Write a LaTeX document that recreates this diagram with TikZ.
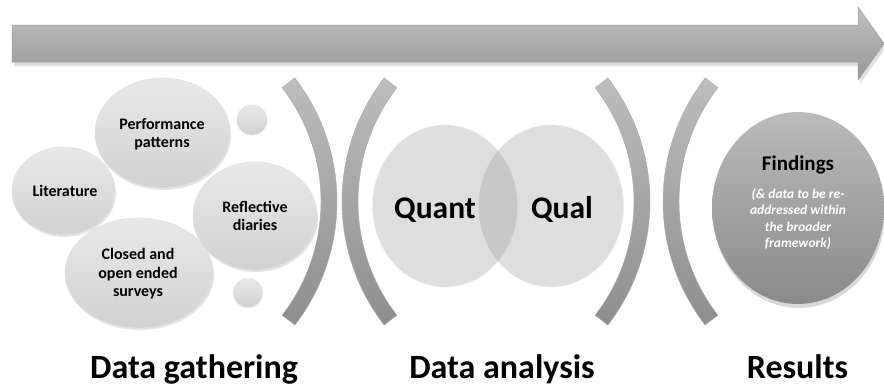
\documentclass[tikz,border=0pt]{standalone}
\usepackage{fontspec}
\setmainfont{Carlito}
\usetikzlibrary{calc}
\definecolor{bubtop}{HTML}{E8E8E8}
\definecolor{bubbot}{HTML}{D2D2D2}
\definecolor{venn}{HTML}{DEDEDE}
\definecolor{vennmid}{HTML}{C8C8C8}
\definecolor{arrtop}{HTML}{C0C0C0}
\definecolor{arrbot}{HTML}{989898}
\definecolor{brtop}{HTML}{BDBDBD}
\definecolor{brbot}{HTML}{8E8E8E}
\definecolor{fintop}{HTML}{BBBBBB}
\definecolor{finbot}{HTML}{8A8A8A}
\begin{document}
\begin{tikzpicture}[x=1pt,y=-1pt,
  bub/.style={top color=bubtop,bottom color=bubbot,draw=black!12,line width=0.6pt},
  shadowfill/.style={fill=black,opacity=0.10},
  btxt/.style={font=\bfseries\fontsize{16}{18.5}\selectfont,align=center,text=black},
  bigtxt/.style={font=\bfseries\fontsize{31.5}{36}\selectfont,anchor=base,text=black},
  labtxt/.style={font=\bfseries\fontsize{34}{40}\selectfont,anchor=base,text=black},
  brk/.style={top color=brtop,bottom color=brbot,draw=black!35,line width=0.4pt}]
\useasboundingbox (0,0) rectangle (884,389);

% ---- main arrow ----
\fill[black,opacity=0.12] (14,28) -- (860,28) -- (860,10) -- (886,47) -- (860,84) -- (860,66) -- (14,66) -- cycle;
\path[top color=arrtop,bottom color=arrbot,draw=black!40,line width=0.5pt]
  (12,25) -- (858,25) -- (858,7) -- (884,43.5) -- (858,80) -- (858,62) -- (12,62) -- cycle;

% ---- data gathering bubbles ----
\fill[shadowfill] (64.5,193) ellipse [x radius=51.5pt, y radius=44pt];
\path[bub] (63.5,191) ellipse [x radius=51.5pt, y radius=44pt];
\fill[shadowfill] (163.5,135) ellipse [x radius=67.5pt, y radius=55pt];
\path[bub] (162.5,133) ellipse [x radius=67.5pt, y radius=55pt];
\fill[shadowfill] (256,218) ellipse [x radius=62pt, y radius=54pt];
\path[bub] (255,216) ellipse [x radius=62pt, y radius=54pt];
\fill[shadowfill] (140,275) ellipse [x radius=74pt, y radius=55pt];
\path[bub] (139,273) ellipse [x radius=74pt, y radius=55pt];
\path[bub] (252,120) circle [radius=15pt];
\path[bub] (248,293) circle [radius=14.5pt];

\node[btxt] (lit) at (65,191) {Literature};
\node[btxt] (perf) at (162,134) {Performance\\patterns};
\node[btxt] (refl) at (255,216) {Reflective\\diaries};
\node[btxt] (surv) at (138,274) {Closed and\\open ended\\surveys};

% ---- brackets ----
\coordinate (c1) at (135,201.5);
\coordinate (c2) at (544,201.5);
\coordinate (c3) at (448,201.5);
\coordinate (c4) at (865,201.5);
\foreach \c in {c1,c3}{
  \path[brk] ($(\c)+(-37.7:202pt)$) arc[start angle=-37.7,end angle=37.7,radius=202pt]
    -- ($(\c)+(37.7:186pt)$) arc[start angle=37.7,end angle=-37.7,radius=186pt] -- cycle;
}
\foreach \c in {c2,c4}{
  \path[brk] ($(\c)+(142.3:202pt)$) arc[start angle=142.3,end angle=217.7,radius=202pt]
    -- ($(\c)+(217.7:186pt)$) arc[start angle=217.7,end angle=142.3,radius=186pt] -- cycle;
}

% ---- Venn ----
\fill[venn,draw=black!8] (445,206) ellipse [x radius=72.5pt, y radius=81pt];
\fill[venn,draw=black!8] (551,206) ellipse [x radius=72.5pt, y radius=81pt];
\begin{scope}
  \clip (445,206) ellipse [x radius=72.5pt, y radius=81pt];
  \fill[vennmid] (551,206) ellipse [x radius=72.5pt, y radius=81pt];
\end{scope}
\node[bigtxt] (quant) at (435,218) {Quant};
\node[bigtxt] (qual) at (562,218) {Qual};

% ---- findings ----
\fill[black,opacity=0.15] (799,212) ellipse [x radius=86pt, y radius=96pt];
\path[top color=fintop,bottom color=finbot] (798,208) ellipse [x radius=86pt, y radius=96pt];
\node[font=\bfseries\fontsize{21}{24}\selectfont,anchor=base] (find) at (798,170) {Findings};
\node[font=\bfseries\itshape\fontsize{13.5}{16.6}\selectfont,text=white,align=center] (sub) at (798,219)
  {(\& data to be re-\\addressed within\\the broader\\framework)};

% ---- stage labels ----
\node[labtxt] (l1) at (194,378) {Data gathering};
\node[labtxt] (l2) at (502,378) {Data analysis};
\node[labtxt] (l3) at (797.5,378) {Results};
\end{tikzpicture}
\end{document}
